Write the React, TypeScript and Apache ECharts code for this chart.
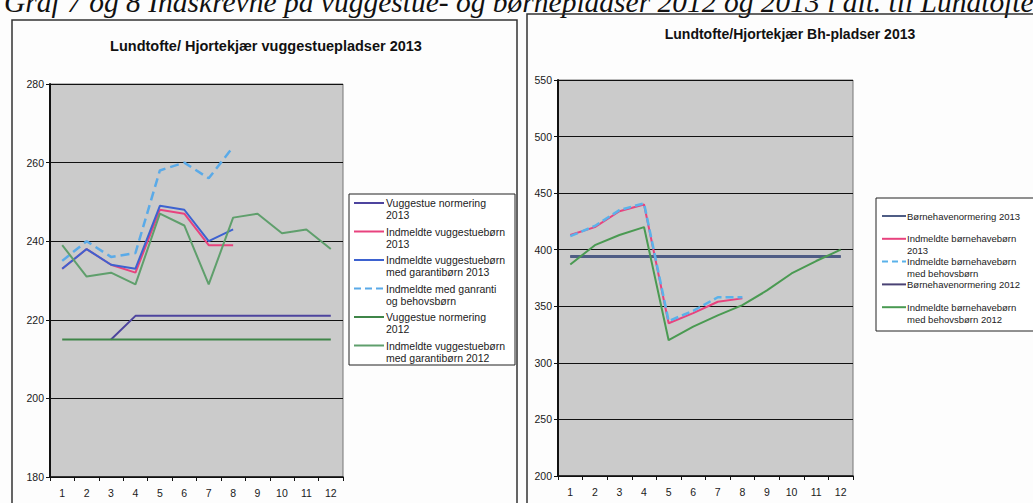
import React, { useEffect, useRef } from "react";
import * as echarts from "echarts";

const months = ["1", "2", "3", "4", "5", "6", "7", "8", "9", "10", "11", "12"];

const caption = "Graf 7 og 8 Indskrevne på vuggestue- og børnepladser 2012 og 2013 i alt. til Lundtofte";
const leftTitle = "Lundtofte/ Hjortekjær vuggestuepladser 2013";
const rightTitle = "Lundtofte/Hjortekjær Bh-pladser 2013";

// Left chart (vuggestue)
const vugNorm2013 = [null, null, 215, 221, 221, 221, 221, 221, 221, 221, 221, 221];
const vugInd2013 = [233, 238, 234, 232, 248, 247, 239, 239, null, null, null, null];
const vugGar2013 = [233, 238, 234, 233, 249, 248, 240, 243, null, null, null, null];
const vugBehov2013 = [235, 240, 236, 237, 258, 260, 256, 264, null, null, null, null];
const vugNorm2012 = [215, 215, 215, 215, 215, 215, 215, 215, 215, 215, 215, 215];
const vugGar2012 = [239, 231, 232, 229, 247, 244, 229, 246, 247, 242, 243, 238];

const leftNames = [
  "Vuggestue normering\n2013",
  "Indmeldte vuggestuebørn\n2013",
  "Indmeldte vuggestuebørn\nmed garantibørn 2013",
  "Indmeldte med ganranti\nog behovsbørn",
  "Vuggestue normering\n2012",
  "Indmeldte vuggestuebørn\nmed garantibørn 2012",
];
const leftColors = ["#4d449e", "#e8437e", "#3d62d0", "#5aaae8", "#3f8548", "#5f9f6c"];
const leftDashed = [false, false, false, true, false, false];
const leftData = [vugNorm2013, vugInd2013, vugGar2013, vugBehov2013, vugNorm2012, vugGar2012];

// Right chart (børnehave)
const bhNorm2013 = [394, 394, 394, 394, 394, 394, 394, 394, 394, 394, 394, 394];
const bhInd2013 = [413, 420, 434, 440, 335, 344, 354, 357, null, null, null, null];
const bhBehov2013 = [412, 421, 435, 441, 337, 346, 358, 358, null, null, null, null];
const bhNorm2012 = [394, 394, 394, 394, 394, 394, 394, 394, 394, 394, 394, 394];
const bhBehov2012 = [387, 404, 413, 420, 320, 332, 342, 351, 364, 379, 390, 400];

const rightNames = [
  "Børnehavenormering 2013",
  "Indmeldte børnehavebørn\n2013",
  "Indmeldte børnehavebørn\nmed behovsbørn",
  "Børnehavenormering 2012",
  "Indmeldte børnehavebørn\nmed behovsbørn 2012",
];
const rightColors = ["#4f5d85", "#e8437e", "#5ab2ea", "#4a4274", "#4a9a52"];
const rightDashed = [false, false, true, false, false];
const rightData = [bhNorm2012, bhNorm2013, bhInd2013, bhBehov2013, bhBehov2012];
const rightOrder = [3, 0, 1, 2, 4]; // draw order -> legend index

const SANS = '"Liberation Sans", Arial, sans-serif';

export default function App() {
  const ref = useRef<HTMLDivElement>(null);
  useEffect(() => {
    if (!ref.current) return;
    const chart = echarts.init(ref.current, undefined, { renderer: "svg" });

    const axisLabel = { fontSize: 10.5, color: "#1a1a1a", fontFamily: SANS };
    const xAxisBase = (gi: number) => ({
      type: "category",
      gridIndex: gi,
      data: months,
      boundaryGap: true,
      axisLine: { show: true, lineStyle: { color: "#111", width: 1.5 } },
      axisTick: { show: true, length: 4, lineStyle: { color: "#111", width: 1 } },
      axisLabel: { ...axisLabel, margin: 10, interval: 0 },
      splitLine: { show: false },
    });
    const yAxisBase = (gi: number, min: number, max: number, interval: number) => ({
      type: "value",
      gridIndex: gi,
      min,
      max,
      interval,
      axisLine: { show: true, lineStyle: { color: "#111", width: 2 } },
      axisTick: { show: true, length: 4, lineStyle: { color: "#111", width: 1 } },
      axisLabel: { ...axisLabel, margin: 6 },
      splitLine: { show: true, lineStyle: { color: "#111", width: 1 } },
    });

    const series: any[] = [];
    leftData.forEach((d, i) => {
      series.push({
        type: "line",
        name: leftNames[i],
        xAxisIndex: 0,
        yAxisIndex: 0,
        data: d,
        symbol: "none",
        connectNulls: false,
        lineStyle: {
          color: leftColors[i],
          width: leftDashed[i] ? 2.5 : 2,
          type: leftDashed[i] ? [9, 5] : "solid",
        },
        z: 2 + i,
      });
    });
    rightData.forEach((d, k) => {
      const i = rightOrder[k];
      series.push({
        type: "line",
        name: rightNames[i],
        xAxisIndex: 1,
        yAxisIndex: 1,
        data: d,
        symbol: "none",
        connectNulls: false,
        lineStyle: {
          color: rightColors[i],
          width: i === 0 ? 3 : rightDashed[i] ? 2.5 : 2,
          type: rightDashed[i] ? [8, 4] : "solid",
        },
        z: 2 + k,
      });
    });

    const graphic: any[] = [];
    graphic.push({
      type: "text",
      x: 4,
      y: 2,
      style: {
        text: caption,
        font: 'italic 29.5px "Liberation Serif", "DejaVu Serif", serif',
        fill: "#111",
        align: "left",
        verticalAlign: "middle",
      },
    });
    graphic.push({
      type: "rect",
      shape: { x: 12, y: 20, width: 505, height: 520 },
      style: { fill: "none", stroke: "#333", lineWidth: 1.5 },
      silent: true,
    });
    graphic.push({
      type: "rect",
      shape: { x: 527, y: 14, width: 520, height: 520 },
      style: { fill: "none", stroke: "#333", lineWidth: 1.5 },
      silent: true,
    });
    graphic.push({
      type: "text",
      x: 266,
      y: 46,
      style: {
        text: leftTitle,
        font: `bold 14.5px ${SANS}`,
        fill: "#111",
        align: "center",
        verticalAlign: "middle",
      },
    });
    graphic.push({
      type: "text",
      x: 790,
      y: 34,
      style: {
        text: rightTitle,
        font: `bold 14px ${SANS}`,
        fill: "#111",
        align: "center",
        verticalAlign: "middle",
      },
    });

    // Left legend
    graphic.push({
      type: "rect",
      shape: { x: 349, y: 194, width: 166, height: 171 },
      style: { fill: "#ffffff", stroke: "#222", lineWidth: 1 },
      z: 10,
    });
    leftNames.forEach((n, i) => {
      const y = 203 + i * 28.5;
      graphic.push({
        type: "line",
        shape: { x1: 354, y1: y, x2: 384, y2: y },
        style: {
          stroke: leftColors[i],
          lineWidth: 2,
          lineDash: leftDashed[i] ? [7, 4] : null,
        },
        z: 11,
      });
      graphic.push({
        type: "text",
        x: 386,
        y: y - 6,
        style: {
          text: n,
          font: `10.5px ${SANS}`,
          lineHeight: 12,
          fill: "#222",
          align: "left",
          verticalAlign: "top",
        },
        z: 11,
      });
    });

    // Right legend
    graphic.push({
      type: "rect",
      shape: { x: 876, y: 198, width: 180, height: 133 },
      style: { fill: "#ffffff", stroke: "#222", lineWidth: 1 },
      z: 10,
    });
    rightNames.forEach((n, i) => {
      const y = 216 + i * 22.8;
      graphic.push({
        type: "line",
        shape: { x1: 882, y1: y, x2: 906, y2: y },
        style: {
          stroke: rightColors[i],
          lineWidth: 2,
          lineDash: rightDashed[i] ? [6, 4] : null,
        },
        z: 11,
      });
      graphic.push({
        type: "text",
        x: 907,
        y: y - 6,
        style: {
          text: n,
          font: `9.5px ${SANS}`,
          lineHeight: 12,
          fill: "#222",
          align: "left",
          verticalAlign: "top",
        },
        z: 11,
      });
    });

    chart.setOption({
      animation: false,
      backgroundColor: "#fdfdfd",
      grid: [
        { left: 50, top: 84, width: 293, height: 393, show: true, backgroundColor: "#cbcbcb", borderColor: "#777", borderWidth: 1, containLabel: false },
        { left: 558, top: 80, width: 295, height: 396, show: true, backgroundColor: "#cbcbcb", borderColor: "#777", borderWidth: 1, containLabel: false },
      ],
      xAxis: [xAxisBase(0), xAxisBase(1)],
      yAxis: [yAxisBase(0, 180, 280, 20), yAxisBase(1, 200, 550, 50)],
      series,
      graphic,
    });
    return () => chart.dispose();
  }, []);
  return (
    <div
      ref={ref}
      style={{ position: "fixed", left: 0, top: 0, width: 1033, height: 503 }}
    />
  );
}
